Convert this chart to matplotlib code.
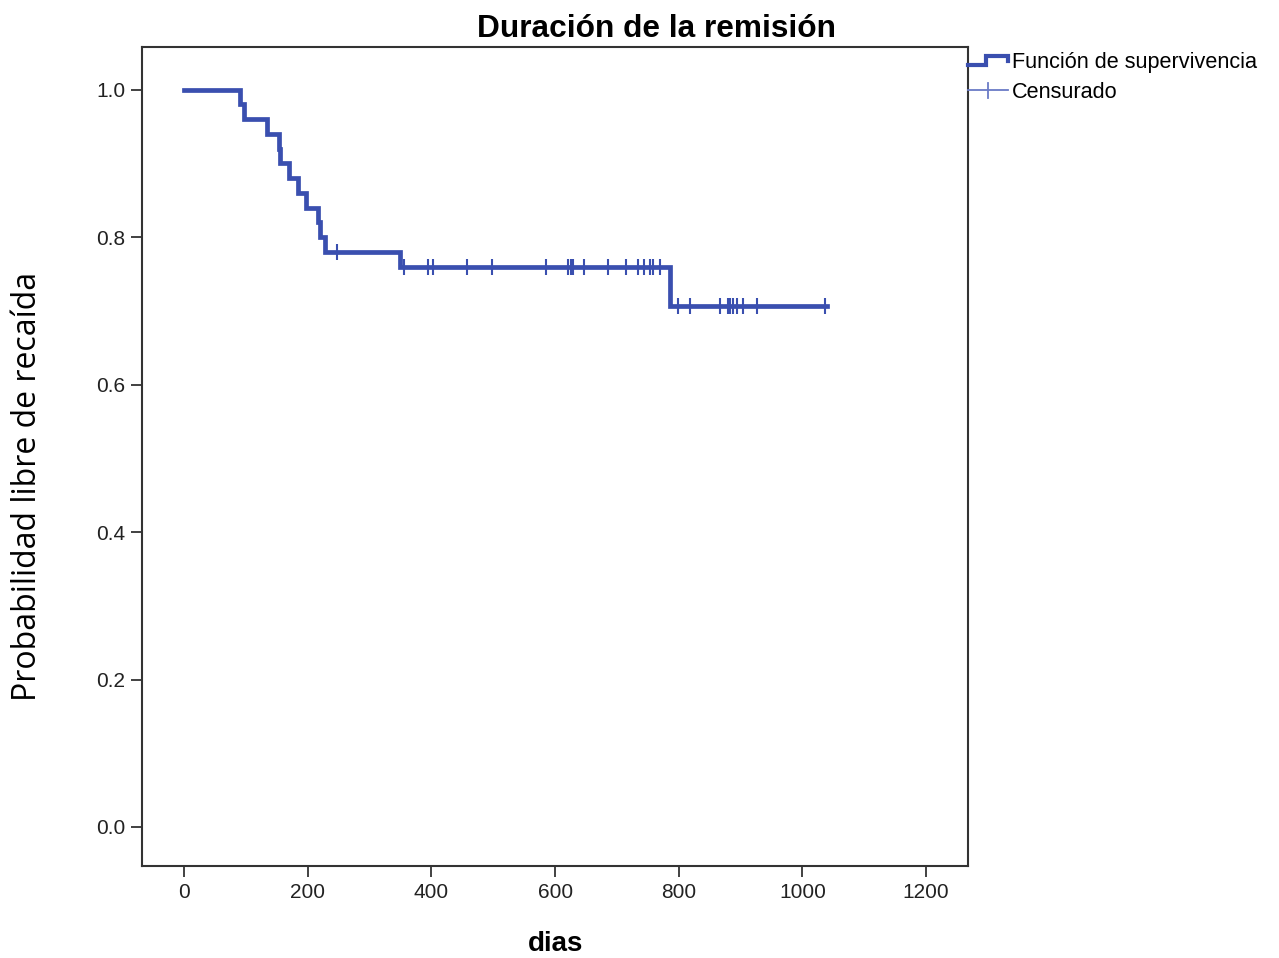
import matplotlib
matplotlib.use("Agg")
import matplotlib.pyplot as plt
from matplotlib.legend_handler import HandlerBase
from matplotlib.lines import Line2D

# Kaplan-Meier steps
step_days = [0, 91, 97, 134, 153, 156, 169, 185, 198, 217, 220, 228, 350, 786]
step_surv = [1.0, 0.98, 0.96, 0.94, 0.92, 0.90, 0.88, 0.86, 0.84, 0.82, 0.80, 0.78, 0.76, 0.707]
end_day = 1040

# censored observations
censor_days = [247,
               355, 394, 403, 457, 498, 585, 621, 625, 629, 646, 686, 715, 734, 743, 754, 759, 769,
               798, 818, 867, 879, 883, 887, 894, 904, 927, 1037]

x_ticks = [0, 200, 400, 600, 800, 1000, 1200]
y_ticks = [0.0, 0.2, 0.4, 0.6, 0.8, 1.0]

LINE = "#3A4FAF"
CENS = "#6A7BC6"


def surv_at(t):
    value = step_surv[0]
    for d, s in zip(step_days, step_surv):
        if d <= t:
            value = s
    return value


class StepHandler(HandlerBase):
    def create_artists(self, legend, orig_handle, xdescent, ydescent, width, height, fontsize, trans):
        x0, y0 = -xdescent, -ydescent
        xs = [x0, x0 + 0.45 * width, x0 + 0.45 * width, x0 + width, x0 + width]
        ys = [y0 + 0.2 * height, y0 + 0.2 * height, y0 + 0.8 * height, y0 + 0.8 * height, y0 + 0.45 * height]
        line = Line2D(xs, ys, color=LINE, lw=3, solid_joinstyle="miter", transform=trans)
        return [line]


class CensorHandler(HandlerBase):
    def create_artists(self, legend, orig_handle, xdescent, ydescent, width, height, fontsize, trans):
        x0, y0 = -xdescent, -ydescent
        ym = y0 + 0.5 * height
        h = Line2D([x0, x0 + width], [ym, ym], color=CENS, lw=1.3, transform=trans)
        v = Line2D([x0 + 0.5 * width] * 2, [ym - 0.5 * height, ym + 0.5 * height], color=CENS, lw=1.3,
                   transform=trans)
        return [h, v]


plt.rcParams["font.family"] = ["Liberation Sans", "DejaVu Sans"]

fig = plt.figure(figsize=(12.79, 9.58), dpi=100)
ax = fig.add_axes([0.111, 0.096, 0.646, 0.855])

xs = step_days + [end_day]
ys = step_surv + [step_surv[-1]]
surv_line, = ax.step(xs, ys, where="post", color=LINE, lw=3.4, solid_joinstyle="miter")
cy = [surv_at(d) for d in censor_days]
ax.plot(censor_days, cy, ls="none", marker="|", ms=11, mew=1.5, color=LINE)

ax.set_xlim(-68, 1268)
ax.set_ylim(-0.053, 1.058)
ax.set_xticks(x_ticks)
ax.set_yticks(y_ticks)
ax.set_xticklabels([str(v) for v in x_ticks])
ax.set_yticklabels([f"{v:.1f}" for v in y_ticks])
ax.tick_params(direction="out", length=8, width=1.3, color="#333333", labelsize=15,
               labelcolor="#222222", pad=4)
for sp in ax.spines.values():
    sp.set_linewidth(1.5)
    sp.set_color("#333333")

fig.text(0.513, 1 - 37 / 958, "Duración de la remisión", fontsize=22.8, fontweight="bold",
         ha="center", va="baseline")
ax.set_xlabel("dias", fontsize=20, fontweight="bold", va="baseline")
ax.xaxis.set_label_coords(0.5, -0.104)
ax.set_ylabel("Probabilidad libre de recaída", fontsize=23, family=["Open Sans", "DejaVu Sans"],
              va="center")
ax.yaxis.set_label_coords(-0.138, 0.463)

cens_handle = Line2D([], [])
leg = ax.legend([surv_line, cens_handle], ["Función de supervivencia", "Censurado"],
                handler_map={surv_line: StepHandler(), cens_handle: CensorHandler()},
                loc="upper left", bbox_to_anchor=(1.0, 0.994), frameon=False, fontsize=15.6,
                handlelength=1.85, handletextpad=0.15, labelspacing=0.42, borderaxespad=0.0,
                borderpad=0.0)

fig.savefig("out.png", dpi=100)
